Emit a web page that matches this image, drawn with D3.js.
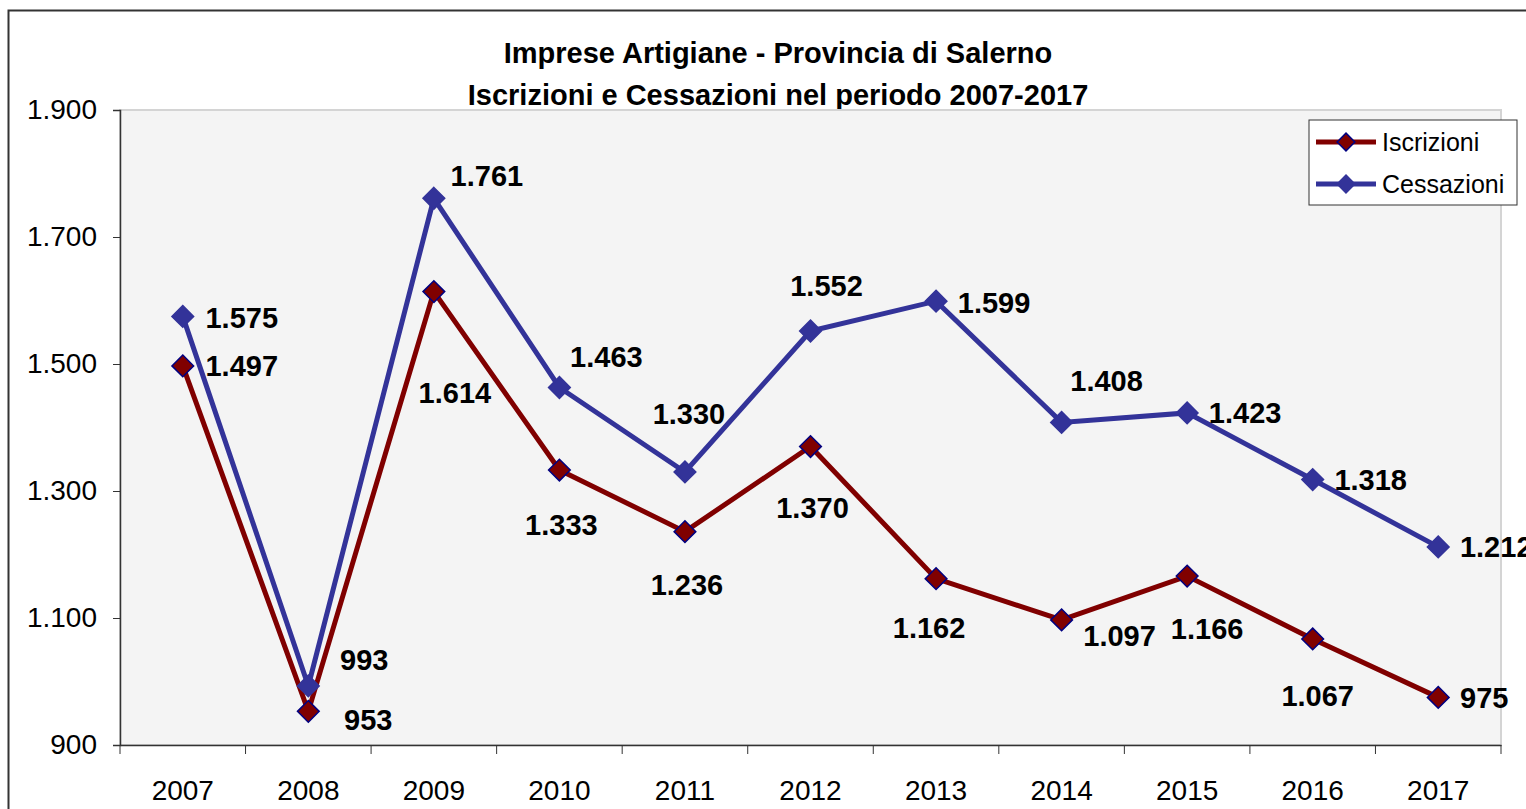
<!DOCTYPE html>
<html>
<head>
<meta charset="utf-8">
<script src="https://cdn.jsdelivr.net/npm/d3@7"></script>
<style>
  body { margin: 0; background: #fff; }
  text { font-family: "Liberation Sans", Arial, sans-serif; }
</style>
</head>
<body>
<div id="chart-area"></div>
<script>
// Data
var years = ["2007", "2008", "2009", "2010", "2011", "2012", "2013", "2014", "2015", "2016", "2017"];
var iscrizioni = [1497, 953, 1614, 1333, 1236, 1370, 1162, 1097, 1166, 1067, 975];
var cessazioni = [1575, 993, 1761, 1463, 1330, 1552, 1599, 1408, 1423, 1318, 1212];
var yTicks = [900, 1100, 1300, 1500, 1700, 1900];
var seriesNames = ["Iscrizioni", "Cessazioni"];

// Label placement offsets (layout only)
var iscrDx = [59, 60, 21, 2, 2, 2, -7, 58, 20, 5, 46];
var iscrDy = [0, 8, 101, 55, 53, 61, 49, 16, 52, 57, 0];
var cessDx = [59, 56, 53, 47, 4, 16, 58, 45, 58, 58, 58];
var cessDy = [1, -26, -23, -31, -58, -45, 1, -42, 0, 0, 0];

var width = 1526, height = 809;
var margin = { top: 110, left: 120 };
var plotW = 1381, plotH = 635;

var svg = d3.select("#chart-area").append("svg")
    .attr("width", width)
    .attr("height", height);

// outer frame
svg.append("rect")
    .attr("x", 8.5).attr("y", 10.5)
    .attr("width", 1540).attr("height", 820)
    .attr("fill", "#fff")
    .attr("stroke", "#333").attr("stroke-width", 2);

// title
var title = svg.append("text")
    .attr("x", 778).attr("y", 63)
    .attr("text-anchor", "middle")
    .attr("font-size", "29px")
    .attr("font-weight", "bold")
    .attr("fill", "#000");
title.append("tspan").attr("x", 778).attr("dy", 0).text("Imprese Artigiane - Provincia di Salerno");
title.append("tspan").attr("x", 778).attr("dy", 42).text("Iscrizioni e Cessazioni nel periodo 2007-2017");

var g = svg.append("g").attr("transform", `translate(${margin.left}, ${margin.top})`);

var x = d3.scaleBand().domain(years).range([0, plotW]);
var y = d3.scaleLinear().domain([900, 1900]).range([plotH, 0]);

// plot background
g.append("rect")
    .attr("width", plotW).attr("height", plotH)
    .attr("fill", "#f4f4f4")
    .attr("stroke", "#d4d4d4").attr("stroke-width", 2);

// y axis
var yAxis = g.append("g")
    .call(d3.axisLeft(y).tickValues(yTicks).tickSize(7).tickPadding(16)
        .tickFormat(d => d3.format(",")(d).replace(",", ".")));
yAxis.selectAll("text").attr("font-size", "28px").attr("fill", "#000")
    .style("font-family", "'Liberation Sans', Arial, sans-serif");
yAxis.selectAll("line").attr("stroke", "#333");
yAxis.select(".domain").attr("stroke", "#333").attr("stroke-width", 1.5);

// x axis
var xAxis = g.append("g")
    .attr("transform", `translate(0, ${plotH})`)
    .call(d3.axisBottom(x).tickSize(0).tickPadding(35));
xAxis.selectAll("text").attr("font-size", "28px").attr("fill", "#000")
    .style("font-family", "'Liberation Sans', Arial, sans-serif");
xAxis.select(".domain").attr("stroke", "#333").attr("stroke-width", 1.5);
xAxis.selectAll(".edge")
    .data(d3.range(years.length + 1))
    .enter().append("line")
    .attr("x1", i => i * x.step()).attr("x2", i => i * x.step())
    .attr("y1", 0).attr("y2", 9)
    .attr("stroke", "#333");

var cx = d => x(d) + x.bandwidth() / 2;
var diamond = d3.symbol().type(d3.symbolDiamond2).size(300);

function drawSeries(values, color, markerFill, markerStroke, dxs, dys) {
    var line = d3.line().x((d, i) => cx(years[i])).y(d => y(d));
    g.append("path")
        .datum(values)
        .attr("d", line)
        .attr("fill", "none")
        .attr("stroke", color)
        .attr("stroke-width", 5);
    g.selectAll(null)
        .data(values)
        .enter().append("path")
        .attr("d", diamond)
        .attr("transform", (d, i) => `translate(${cx(years[i])}, ${y(d)})`)
        .attr("fill", markerFill)
        .attr("stroke", markerStroke)
        .attr("stroke-width", 1.5);
    g.selectAll(null)
        .data(values)
        .enter().append("text")
        .attr("x", (d, i) => cx(years[i]) + dxs[i])
        .attr("y", (d, i) => y(d) + dys[i])
        .attr("dy", "0.36em")
        .attr("text-anchor", "middle")
        .attr("font-size", "29px")
        .attr("font-weight", "bold")
        .attr("fill", "#000")
        .text(d => d3.format(",")(d).replace(",", "."));
}

drawSeries(iscrizioni, "#800000", "#800000", "#000080", iscrDx, iscrDy);
drawSeries(cessazioni, "#333399", "#333399", "#333399", cessDx, cessDy);

// legend
var legend = svg.append("g").attr("transform", "translate(1309, 120)");
legend.append("rect")
    .attr("width", 208).attr("height", 85)
    .attr("fill", "#fff").attr("stroke", "#333").attr("stroke-width", 1);
var legColors = [["#800000", "#800000", "#000080"], ["#333399", "#333399", "#333399"]];
seriesNames.forEach((name, i) => {
    var ly = 22 + i * 42;
    legend.append("line")
        .attr("x1", 7).attr("x2", 67).attr("y1", ly).attr("y2", ly)
        .attr("stroke", legColors[i][0]).attr("stroke-width", 5);
    legend.append("path")
        .attr("d", d3.symbol().type(d3.symbolDiamond2).size(200))
        .attr("transform", `translate(37, ${ly})`)
        .attr("fill", legColors[i][1]).attr("stroke", legColors[i][2]).attr("stroke-width", 1.5);
    legend.append("text")
        .attr("x", 73).attr("y", ly).attr("dy", "0.36em")
        .attr("font-size", "25px").attr("fill", "#000")
        .text(name);
});
</script>
</body>
</html>
